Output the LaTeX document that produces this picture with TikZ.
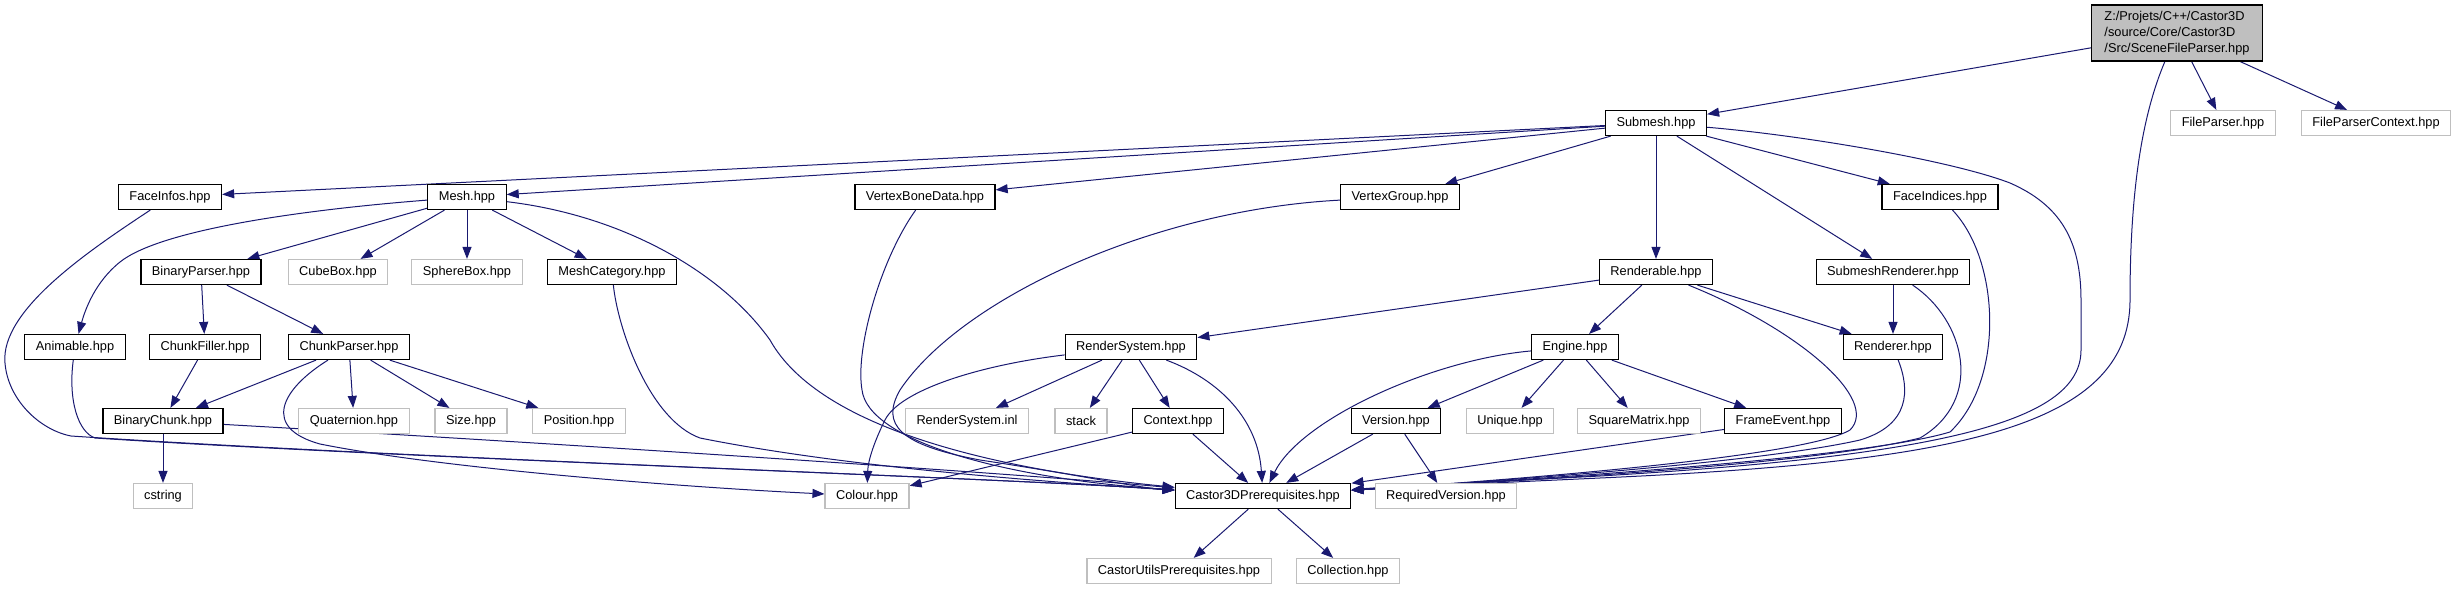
\documentclass[tikz,border=0pt]{standalone}
\usepackage{fontspec}
\setmainfont{Liberation Sans}
\usetikzlibrary{arrows.meta,backgrounds}
\definecolor{edgeblue}{RGB}{25,25,112}
\definecolor{extgray}{RGB}{191,191,191}
\tikzset{
  hdr/.style={draw=black, line width=1.2pt, fill=white, minimum height=25pt,
    inner xsep=11pt, inner ysep=0pt, font=\fontsize{12.8}{15}\selectfont},
  ext/.style={hdr, draw=extgray},
  dep/.style={draw=edgeblue, line width=1pt, -{Triangle[length=12pt,width=9pt]}},
}
\begin{document}
\begin{tikzpicture}[x=1pt,y=-1pt]
  \useasboundingbox (0,0) rectangle (2457,589);
  % top
  \node[hdr, fill=extgray, align=left, minimum width=171pt, minimum height=56pt,
    inner xsep=10pt, font=\fontsize{12.8}{16}\selectfont] (sfp) at (2177,33)
    {Z:/Projets/C++/Castor3D\\/source/Core/Castor3D\\/Src/SceneFileParser.hpp};
  \node[ext] (fileparser) at (2223,123) {FileParser.hpp};
  \node[ext] (fpcontext) at (2376,123) {FileParserContext.hpp};
  \node[hdr] (submesh) at (1656,123) {Submesh.hpp};
  \node[hdr] (faceinfos) at (170,197) {FaceInfos.hpp};
  \node[hdr] (mesh) at (467,197) {Mesh.hpp};
  \node[hdr] (vertexbonedata) at (925,197) {VertexBoneData.hpp};
  \node[hdr] (vertexgroup) at (1400,197) {VertexGroup.hpp};
  \node[hdr] (faceindices) at (1940,197) {FaceIndices.hpp};
  \node[hdr] (binaryparser) at (201,272) {BinaryParser.hpp};
  \node[ext] (cubebox) at (338,272) {CubeBox.hpp};
  \node[ext] (spherebox) at (467,272) {SphereBox.hpp};
  \node[hdr] (meshcategory) at (612,272) {MeshCategory.hpp};
  \node[hdr] (renderable) at (1656,272) {Renderable.hpp};
  \node[hdr] (submeshrenderer) at (1893,272) {SubmeshRenderer.hpp};
  \node[hdr] (animable) at (75,347) {Animable.hpp};
  \node[hdr] (chunkfiller) at (205,347) {ChunkFiller.hpp};
  \node[hdr] (chunkparser) at (349,347) {ChunkParser.hpp};
  \node[hdr] (rendersystem) at (1131,347) {RenderSystem.hpp};
  \node[hdr] (engine) at (1575,347) {Engine.hpp};
  \node[hdr] (renderer) at (1893,347) {Renderer.hpp};
  \node[hdr] (binarychunk) at (163,421) {BinaryChunk.hpp};
  \node[ext] (quaternion) at (354,421) {Quaternion.hpp};
  \node[ext] (size) at (471,421) {Size.hpp};
  \node[ext] (position) at (579,421) {Position.hpp};
  \node[ext] (rendersysteminl) at (967,421) {RenderSystem.inl};
  \node[ext] (stack) at (1081,421) {stack};
  \node[hdr] (context) at (1178,421) {Context.hpp};
  \node[hdr] (version) at (1396,421) {Version.hpp};
  \node[ext] (unique) at (1510,421) {Unique.hpp};
  \node[ext] (squarematrix) at (1639,421) {SquareMatrix.hpp};
  \node[hdr] (frameevent) at (1783,421) {FrameEvent.hpp};
  \node[ext] (cstring) at (163,496) {cstring};
  \node[ext] (colour) at (867,496) {Colour.hpp};
  \node[hdr] (castor3d) at (1263,496) {Castor3DPrerequisites.hpp};
  \node[ext] (requiredversion) at (1446,496) {RequiredVersion.hpp};
  \node[ext] (castorutils) at (1179,571) {CastorUtilsPrerequisites.hpp};
  \node[ext] (collection) at (1348,571) {Collection.hpp};
  \begin{scope}[on background layer]
    % straight includes
    \foreach \a/\b in {sfp/submesh, sfp/fileparser, sfp/fpcontext,
        submesh/faceinfos, submesh/mesh, submesh/vertexbonedata, submesh/vertexgroup,
        submesh/renderable, submesh/submeshrenderer, submesh/faceindices,
        mesh/binaryparser, mesh/cubebox, mesh/spherebox, mesh/meshcategory,
        binaryparser/chunkfiller, binaryparser/chunkparser, chunkfiller/binarychunk,
        chunkparser/binarychunk, chunkparser/quaternion, chunkparser/size,
        chunkparser/position, binarychunk/cstring,
        renderable/rendersystem, renderable/engine, renderable/renderer,
        submeshrenderer/renderer, rendersystem/rendersysteminl, rendersystem/stack,
        rendersystem/context, context/colour, context/castor3d,
        engine/version, engine/unique, engine/squarematrix, engine/frameevent,
        version/castor3d, version/requiredversion, frameevent/castor3d,
        castor3d/castorutils, castor3d/collection}
      \draw[dep] (\a) -- (\b);
    % curved includes, left side
    \draw[dep] (mesh) .. controls (300,210) and (160,230) .. (120,262)
      .. controls (95,282) and (85,310) .. (animable);
    \draw[dep] (faceinfos) .. controls (90,250) and (0,310) .. (5,363)
      .. controls (8,400) and (40,430) .. (71,436)
      .. controls (400,458) and (1000,478) .. (castor3d);
    \draw[dep] (animable) .. controls (68,400) and (78,432) .. (95,438)
      .. controls (400,458) and (1000,478) .. (castor3d);
    \draw[dep] (binarychunk) .. controls (500,440) and (1000,472) .. (castor3d);
    \draw[dep] (chunkparser) .. controls (280,390) and (262,428) .. (320,444)
      .. controls (450,470) and (700,488) .. (colour);
    \draw[dep] (mesh) .. controls (620,215) and (720,270) .. (770,340)
      .. controls (820,430) and (1000,470) .. (castor3d);
    \draw[dep] (meshcategory) .. controls (618,330) and (650,420) .. (700,438)
      .. controls (850,468) and (1050,482) .. (castor3d);
    \draw[dep] (vertexbonedata) .. controls (880,260) and (855,350) .. (862,390)
      .. controls (868,440) and (1000,478) .. (castor3d);
    \draw[dep] (vertexgroup) .. controls (1150,210) and (960,300) .. (900,390)
      .. controls (880,425) and (900,445) .. (980,460)
      .. controls (1080,475) and (1140,488) .. (castor3d);
    \draw[dep] (rendersystem) .. controls (980,365) and (900,390) .. (885,420)
      .. controls (875,440) and (868,460) .. (colour);
    \draw[dep] (rendersystem) .. controls (1220,380) and (1258,420) .. (castor3d);
    \draw[dep] (engine) .. controls (1430,360) and (1300,420) .. (castor3d);
    % curved includes, right side
    \draw[dep] (renderable) .. controls (1800,330) and (1880,400) .. (1850,430)
      .. controls (1800,460) and (1450,484) .. (castor3d);
    \draw[dep] (renderer) .. controls (1910,390) and (1910,425) .. (1860,440)
      .. controls (1750,465) and (1450,484) .. (castor3d);
    \draw[dep] (submeshrenderer) .. controls (1965,320) and (1985,400) .. (1920,438)
      .. controls (1800,468) and (1450,484) .. (castor3d);
    \draw[dep] (faceindices) .. controls (2000,260) and (2005,380) .. (1950,432)
      .. controls (1850,462) and (1450,484) .. (castor3d);
    \draw[dep] (submesh) .. controls (1800,135) and (1950,160) .. (2010,183)
      .. controls (2060,205) and (2081,240) .. (2081,300) -- (2081,350)
      .. controls (2081,420) and (1950,455) .. (1600,476)
      .. controls (1450,484) and (1400,486) .. (castor3d);
    \draw[dep] (sfp) .. controls (2140,120) and (2130,200) .. (2130,300)
      .. controls (2130,430) and (1950,462) .. (1600,478)
      .. controls (1450,485) and (1400,487) .. (castor3d);
  \end{scope}
\end{tikzpicture}
\end{document}
